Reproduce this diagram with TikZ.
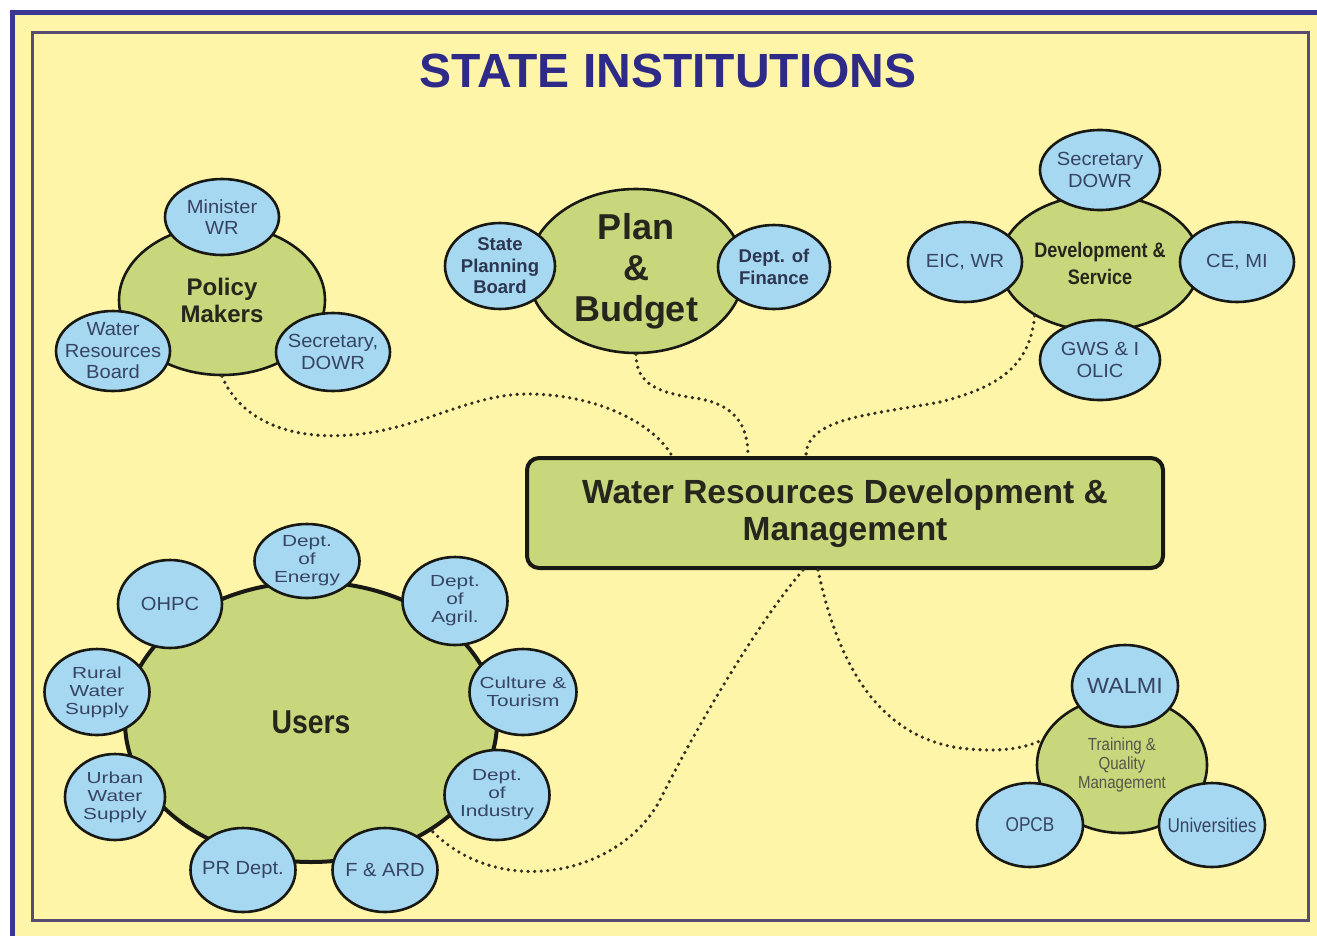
\documentclass[tikz,border=0pt]{standalone}
\usepackage{fontspec}
\setmainfont{Liberation Sans}
\newfontfamily\widefont[FakeStretch=1.06]{Liberation Sans}
\newfontfamily\xwidefont[FakeStretch=1.3]{Liberation Sans}
\newfontfamily\narrowfont[FakeStretch=0.86]{Liberation Sans}
\usetikzlibrary{shapes.geometric,calc}
\definecolor{bgyellow}{RGB}{255,245,168}
\definecolor{hubgreen}{RGB}{200,214,124}
\definecolor{satblue}{RGB}{166,216,242}
\definecolor{sattext}{RGB}{55,68,100}
\definecolor{hubtext}{RGB}{38,38,28}
\definecolor{graytext}{RGB}{85,85,75}
\definecolor{outerblue}{RGB}{58,54,148}
\definecolor{innerline}{RGB}{88,76,112}
\definecolor{titleblue}{RGB}{46,42,135}
\definecolor{linedark}{RGB}{25,25,20}
\definecolor{dotcol}{RGB}{50,47,34}
\begin{document}
\begin{tikzpicture}[x=1pt,y=-1pt,
  hub/.style={ellipse, draw=linedark, line width=2.6pt, fill=hubgreen, inner sep=-12pt, align=center, text=hubtext},
  sat/.style={ellipse, draw=linedark, line width=2.6pt, fill=satblue, inner sep=-12pt, align=center, text=sattext,
    font=\widefont\fontsize{19}{21.5}\selectfont},
  satsmall/.style={sat, font=\xwidefont\fontsize{16}{18}\selectfont},
  satbold/.style={sat, font=\bfseries\fontsize{18.5}{21.5}\selectfont, text=sattext!80!black},
  satnarrow/.style={sat, font=\narrowfont\fontsize{20}{22}\selectfont},
  mainbox/.style={rectangle, rounded corners=12pt, draw=linedark, line width=4pt, fill=hubgreen, align=center,
    text=hubtext, minimum width=636pt, minimum height=110pt, font=\bfseries\fontsize{33.5}{37}\selectfont},
  dotline/.style={draw=dotcol, line width=3.6pt, line cap=round, dash pattern=on 0pt off 6.6pt}
]
\useasboundingbox (0,0) rectangle (1317,935);
\clip (0,0) rectangle (1317,935);
\fill[white] (0,0) rectangle (1317,935);
\fill[bgyellow] (12,12) rectangle (1345,965);
\draw[outerblue, line width=5pt] (12,12) rectangle (1345,965);
\draw[innerline, line width=3pt] (32,32) rectangle (1308,920);

\node[text=titleblue, font=\bfseries\fontsize{48}{50}\selectfont, inner sep=0pt] (title) at (668,71) {STATE INSTITUTIONS};

% central box
\node[mainbox] (wrdm) at (845,513) {Water Resources Development \&\\Management};

% hubs
\node[hub, minimum width=206pt, minimum height=150pt, font=\bfseries\fontsize{24}{27}\selectfont] (pm) at (222,300) {Policy\\Makers};
\node[hub, minimum width=216pt, minimum height=164pt, font=\bfseries\fontsize{36}{41}\selectfont] (pb) at (636,271) {Plan\\\&\\Budget};
\node[hub, minimum width=200pt, minimum height=136pt, font=\narrowfont\bfseries\fontsize{21}{27}\selectfont] (ds) at (1100,263) {Development \&\\Service};
\node[hub, minimum width=372pt, minimum height=280pt, line width=4pt, font=\narrowfont\bfseries\fontsize{33}{36}\selectfont] (users) at (311,722) {Users};
\node[hub, minimum width=170pt, minimum height=136pt, text=graytext, font=\narrowfont\fontsize{17.5}{19}\selectfont] (tq) at (1122,765) {Training \&\\Quality\\Management};

% connectors
\draw[dotline] (pm.south) .. controls (240,420) and (290,440) .. (350,435)
  .. controls (420,430) and (470,393) .. (530,394)
  .. controls (600,395) and (655,425) .. ([xshift=147pt]wrdm.north west);
\draw[dotline] (pb.south) .. controls (636,385) and (660,393) .. (695,398)
  .. controls (735,404) and (748,425) .. ([xshift=223pt]wrdm.north west);
\draw[dotline] (ds.219) .. controls (1030,365) and (1000,387) .. (940,402)
  .. controls (870,415) and (806,418) .. ([xshift=281pt]wrdm.north west);
\draw[dotline] ([xshift=278pt]wrdm.south west) .. controls (760,620) and (700,720) .. (660,800)
  .. controls (620,875) and (500,900) .. (users.-42);
\draw[dotline] ([xshift=293pt]wrdm.south west) .. controls (835,650) and (870,735) .. (960,748)
  .. controls (1000,753) and (1025,748) .. (tq.163);

% policy makers satellites
\node[sat, minimum width=114pt, minimum height=76pt] (mwr) at (222,217) {Minister\\WR};
\node[sat, minimum width=114pt, minimum height=80pt] (wrb) at (113,351) {Water\\Resources\\Board};
\node[sat, minimum width=114pt, minimum height=78pt] (sdowr) at (333,352) {Secretary,\\DOWR};

% plan & budget satellites
\node[satbold, minimum width=110pt, minimum height=86pt] (spb) at (500,266) {State\\Planning\\Board};
\node[satbold, minimum width=112pt, minimum height=84pt] (dof) at (774,267) {Dept. of\\Finance};

% development satellites
\node[sat, minimum width=120pt, minimum height=80pt] (sdw) at (1100,170) {Secretary\\DOWR};
\node[sat, minimum width=114pt, minimum height=80pt] (eic) at (965,262) {EIC, WR};
\node[sat, minimum width=114pt, minimum height=80pt] (cemi) at (1237,262) {CE, MI};
\node[sat, minimum width=120pt, minimum height=80pt] (gws) at (1100,360) {GWS \& I\\OLIC};

% users satellites
\node[satsmall, minimum width=105pt, minimum height=74pt] (energy) at (307,561) {Dept.\\of\\Energy};
\node[sat, minimum width=104pt, minimum height=88pt] (ohpc) at (170,604) {OHPC};
\node[satsmall, minimum width=105pt, minimum height=88pt] (agril) at (455,601) {Dept.\\of\\Agril.};
\node[satsmall, minimum width=107pt, minimum height=86pt] (culture) at (523,692) {Culture \&\\Tourism};
\node[satsmall, minimum width=105pt, minimum height=90pt] (industry) at (497,795) {Dept.\\of\\Industry};
\node[sat, minimum width=105pt, minimum height=84pt] (fard) at (385,870) {F \& ARD};
\node[sat, minimum width=105pt, minimum height=84pt] (prd) at (243,870) {PR Dept.};
\node[satsmall, minimum width=100pt, minimum height=86pt] (urban) at (115,797) {Urban\\Water\\Supply};
\node[satsmall, minimum width=105pt, minimum height=86pt] (rural) at (97,692) {Rural\\Water\\Supply};

% training satellites
\node[sat, minimum width=106pt, minimum height=82pt, font=\widefont\fontsize{22}{24}\selectfont] (walmi) at (1125,686) {WALMI};
\node[satnarrow, minimum width=106pt, minimum height=84pt] (opcb) at (1030,825) {OPCB};
\node[satnarrow, minimum width=106pt, minimum height=84pt] (univ) at (1212,825) {Universities};
\end{tikzpicture}
\end{document}
